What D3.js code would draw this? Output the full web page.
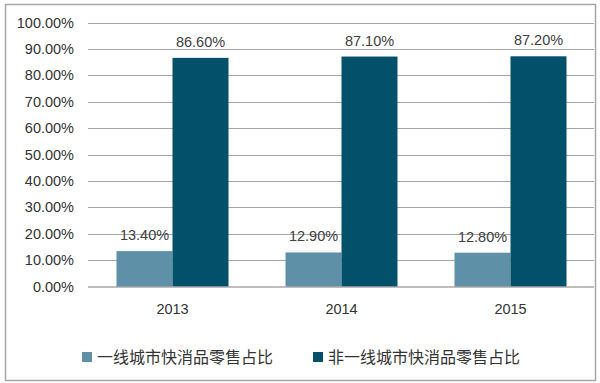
<!DOCTYPE html>
<html><head><meta charset="utf-8">
<script src="https://cdn.jsdelivr.net/npm/d3@7"></script>
<style>body{margin:0;background:#fff}svg{display:block}</style>
</head><body>
<svg id="c" width="600" height="383"></svg>
<script>
const categories = ["2013", "2014", "2015"];
const seriesNames = ["一线城市快消品零售占比", "非一线城市快消品零售占比"];
const tier1 = [13.4, 12.9, 12.8];
const nonTier1 = [86.6, 87.1, 87.2];
const yTicks = [0, 10, 20, 30, 40, 50, 60, 70, 80, 90, 100];
const colors = ["#5e90a7", "#03506b"];

(function () {
const svg = d3.select("#c");
svg.append("rect").attr("x", 5.5).attr("y", 4.5).attr("width", 590).attr("height", 376)
  .attr("fill", "#fff").attr("stroke", "#a6a6a6").attr("stroke-width", 1.5);

const pLeft = 88, pRight = 595, pTop = 22.5, pBottom = 286.5;
const x = d3.scaleBand().domain(categories).range([pLeft, pRight]).paddingInner(0).paddingOuter(0);
const y = d3.scaleLinear().domain([0, 100]).range([pBottom, pTop]);
const sub = d3.scaleBand().domain([0, 1]).range([0, 112]);
const groupOffset = (x.bandwidth() - 112) / 2;

const font = "'Liberation Sans', Arial, sans-serif";

svg.append("g").selectAll("line").data(yTicks.filter(d => d > 0)).join("line")
  .attr("x1", pLeft).attr("x2", pRight - 1)
  .attr("y1", d => Math.round(y(d)) + 0.5).attr("y2", d => Math.round(y(d)) + 0.5)
  .attr("stroke", "#a6a6a6").attr("stroke-width", 1.2);

const yAxis = d3.axisLeft(y).tickValues(yTicks).tickSize(0).tickPadding(14)
  .tickFormat(d => d.toFixed(2) + "%");
const ga = svg.append("g").attr("transform", `translate(${pLeft},0)`).call(yAxis);
ga.select(".domain").remove();
ga.selectAll("text").attr("font-family", font).attr("font-size", 14.5).attr("fill", "#333");

const series = [tier1, nonTier1];
series.forEach((vals, si) => {
  svg.append("g").selectAll("rect").data(vals).join("rect")
    .attr("x", (d, i) => x(categories[i]) + groupOffset + sub(si))
    .attr("width", sub.bandwidth())
    .attr("y", d => y(d)).attr("height", d => y(0) - y(d))
    .attr("fill", colors[si]);
  svg.append("g").selectAll("text").data(vals).join("text")
    .attr("x", (d, i) => x(categories[i]) + groupOffset + sub(si) + sub.bandwidth() / 2)
    .attr("y", d => y(d) - 11)
    .attr("text-anchor", "middle").attr("font-family", font).attr("font-size", 14.5)
    .attr("fill", "#404040").text(d => d.toFixed(2) + "%");
});

svg.append("line").attr("x1", pLeft).attr("x2", pRight - 1)
  .attr("y1", pBottom + 0.5).attr("y2", pBottom + 0.5).attr("stroke", "#7f7f7f").attr("stroke-width", 1.2);
const xAxis = d3.axisBottom(x).tickSize(0).tickPadding(17);
const gx = svg.append("g").attr("transform", `translate(0,${pBottom})`).call(xAxis);
gx.select(".domain").remove();
gx.selectAll("text").attr("font-family", font).attr("font-size", 14.5).attr("fill", "#333");

const legX = [82, 313];
const lg = svg.append("g").selectAll("g").data(seriesNames).join("g")
  .attr("transform", (d, i) => `translate(${legX[i]},352)`);
lg.append("rect").attr("width", 10).attr("height", 10).attr("fill", (d, i) => colors[i]);
lg.append("text").attr("x", 15).attr("y", 10.5).attr("font-family", "'Noto Sans CJK SC', sans-serif")
  .attr("font-size", 16).attr("fill", "#333").text(d => d);
})();
</script>
</body></html>
